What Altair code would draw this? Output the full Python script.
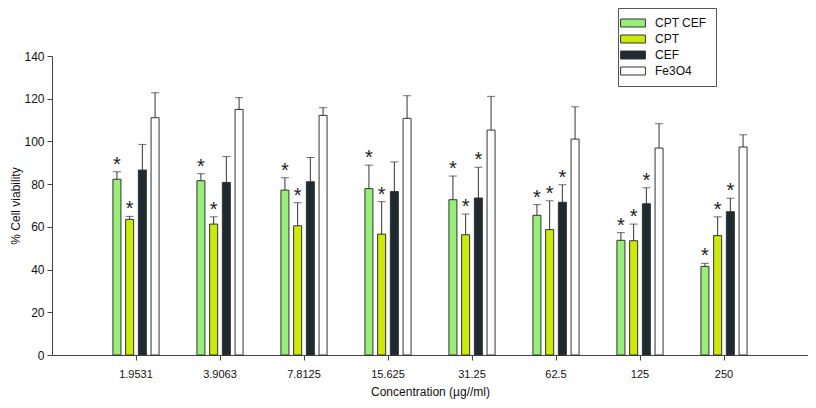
import altair as alt
import pandas as pd

concentrations = ["1.9531", "3.9063", "7.8125", "15.625", "31.25", "62.5", "125", "250"]
series_names = ["CPT CEF", "CPT", "CEF", "Fe3O4"]

cpt_cef = [82.3, 81.6, 77.2, 77.9, 72.7, 65.4, 53.7, 41.5]
cpt_cef_err = [3.5, 3.3, 5.8, 11.0, 11.1, 5.0, 3.6, 1.4]
cpt = [63.5, 61.3, 60.5, 56.6, 56.3, 58.7, 53.5, 55.9]
cpt_err = [1.4, 3.4, 10.8, 15.2, 9.7, 13.5, 7.8, 8.8]
cef = [86.6, 80.8, 81.1, 76.5, 73.5, 71.5, 70.8, 67.1]
cef_err = [12.0, 12.1, 11.4, 13.9, 14.4, 8.2, 7.5, 6.3]
fe3o4 = [111.1, 115.0, 112.2, 110.8, 105.3, 101.1, 96.9, 97.4]
fe3o4_err = [11.7, 5.5, 3.6, 10.6, 15.8, 15.1, 11.4, 5.7]

sig_cpt_cef = [1, 1, 1, 1, 1, 1, 1, 1]
sig_cpt = [1, 1, 1, 1, 1, 1, 1, 1]
sig_cef = [0, 0, 0, 0, 1, 1, 1, 1]
sig_fe3o4 = [0, 0, 0, 0, 0, 0, 0, 0]

colors = ["#98EE78", "#CCEA0A", "#1F2B30", "#FFFFFF"]

rows = []
for name, vals, errs, sigs in [
    ("CPT CEF", cpt_cef, cpt_cef_err, sig_cpt_cef),
    ("CPT", cpt, cpt_err, sig_cpt),
    ("CEF", cef, cef_err, sig_cef),
    ("Fe3O4", fe3o4, fe3o4_err, sig_fe3o4),
]:
    for c, v, e, s in zip(concentrations, vals, errs, sigs):
        rows.append({"conc": c, "series": name, "value": v, "top": v + e, "sig": s})
df = pd.DataFrame(rows)

FONT = "Liberation Sans"

x = alt.X("conc:N", sort=concentrations,
          scale=alt.Scale(paddingInner=0.39, paddingOuter=0.695),
          axis=alt.Axis(title="Concentration (µg//ml)", labelAngle=0))
xo = alt.XOffset("series:N", sort=series_names,
                 scale=alt.Scale(paddingInner=0.37, paddingOuter=0.2))
y_scale = alt.Scale(domain=[0, 140])

base = alt.Chart(df)

bars = base.mark_bar(stroke="#333333", strokeWidth=1).encode(
    x=x,
    xOffset=xo,
    y=alt.Y("value:Q", scale=y_scale,
            axis=alt.Axis(title="% Cell viability", values=[0, 20, 40, 60, 80, 100, 120, 140])),
    fill=alt.Fill("series:N", sort=series_names,
                  scale=alt.Scale(domain=series_names, range=colors),
                  legend=alt.Legend(title=None)),
)

err_rule = base.mark_rule(color="#333333", strokeWidth=1).encode(
    x=x, xOffset=xo, y=alt.Y("value:Q", scale=y_scale), y2="top:Q"
)
err_cap = base.mark_tick(color="#333333", thickness=1, size=8, orient="horizontal").encode(
    x=x, xOffset=xo, y=alt.Y("top:Q", scale=y_scale)
)
stars = base.transform_filter(alt.datum.sig == 1).mark_text(
    text="*", fontSize=20, font=FONT, color="#222222", baseline="alphabetic", dy=-1
).encode(x=x, xOffset=xo, y=alt.Y("top:Q", scale=y_scale))

chart = alt.layer(bars, err_rule, err_cap, stars).properties(
    width=756, height=299,
    autosize=alt.AutoSizeParams(type="none"),
    padding={"left": 44, "top": 48, "right": 0, "bottom": 45},
).configure_view(stroke=None).configure_axis(
    grid=False,
    labelFont=FONT, titleFont=FONT,
    labelFontSize=11, titleFontSize=12,
    titleFontWeight="normal",
    labelColor="#111111", titleColor="#111111",
    domainColor="#444444", tickColor="#444444",
    tickSize=5,
).configure_axisY(
    labelPadding=3, titlePadding=1, labelFontSize=12, titleFontSize=12,
).configure_axisX(
    labelPadding=8, titlePadding=7,
).configure_legend(
    orient="none", legendX=566, legendY=-48,
    strokeColor="#555555", fillColor="#FFFFFF", padding=9,
    labelFont=FONT, labelFontSize=12, labelColor="#111111",
    symbolType="M-3.1,-1H3.1V1H-3.1Z", symbolSize=64,
    symbolStrokeColor="#333333", symbolStrokeWidth=1, symbolOpacity=1,
    labelOffset=16, rowPadding=4, cornerRadius=0,
)

chart.save("out.html", embed_options={"renderer": "svg", "actions": False})
